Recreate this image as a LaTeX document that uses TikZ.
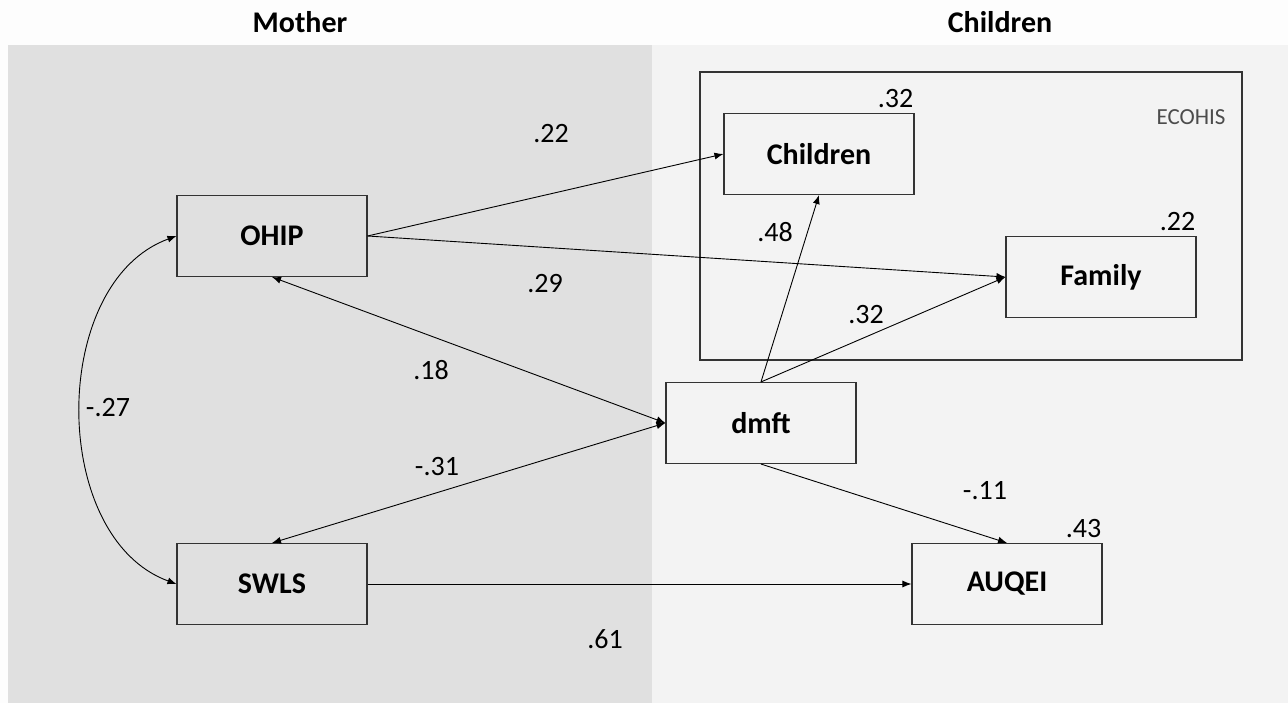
\documentclass[tikz,border=0pt]{standalone}
\usepackage{fontspec}
\setmainfont{Carlito}
\usetikzlibrary{arrows.meta}
\definecolor{motherbg}{RGB}{224,224,224}
\definecolor{childbg}{RGB}{243,243,243}
\definecolor{topbg}{RGB}{253,253,253}
\tikzset{
  var/.style={draw=black!80,line width=1.1pt,minimum width=190pt,minimum height=81pt,
    inner sep=0pt,font=\fontsize{30}{36}\selectfont\bfseries},
  coef/.style={font=\fontsize{28}{34}\selectfont,inner sep=1pt},
  path/.style={line width=0.9pt,-{Latex[length=9pt,width=7pt]}},
  cov/.style={line width=0.9pt,{Latex[length=9pt,width=7pt]}-{Latex[length=9pt,width=7pt]}},
  head/.style={font=\fontsize{30}{36}\selectfont\bfseries}
}
\begin{document}
\begin{tikzpicture}[x=1pt,y=-1pt]
\useasboundingbox (0,0) rectangle (1288,703);
% panels
\fill[topbg] (0,0) rectangle (1288,703);
\fill[motherbg] (8,45) rectangle (652,703);
\fill[childbg] (652,45) rectangle (1288,703);
\node[head] (hmother) at (300,22) {Mother};
\node[head] (hchildren) at (1000,22) {Children};
% ECOHIS block
\node[draw=black!80,line width=1.1pt,minimum width=542pt,minimum height=288pt] (ecohis) at (971,216) {};
\node[font=\fontsize{23}{28}\selectfont,text=black!70] (lecohis) at (1191,117) {ECOHIS};
% variables
\node[var] (ohip) at (272,236) {OHIP};
\node[var] (swls) at (272,584) {SWLS};
\node[var] (dmft) at (761,423) {dmft};
\node[var] (child) at (819,154) {Children};
\node[var] (fam) at (1101,277) {Family};
\node[var] (auqei) at (1007,584) {AUQEI};
% explained variance
\node[coef,anchor=south east] (rchild) at ([yshift=4pt]child.north east) {.32};
\node[coef,anchor=south east] (rfam) at ([yshift=4pt]fam.north east) {.22};
\node[coef,anchor=south east] (rauqei) at ([yshift=4pt]auqei.north east) {.43};
% paths
\draw[path] (ohip.east) -- (child.west);
\draw[path] (ohip.east) -- (fam.west);
\draw[path] (dmft.north) -- (child.south);
\draw[path] (dmft.north) -- (fam.west);
\draw[path] (dmft.south) -- (auqei.north);
\draw[path] (swls.east) -- (auqei.west);
\draw[cov] (ohip.south) -- (dmft.west);
\draw[cov] (swls.north) -- (dmft.west);
\draw[cov] (ohip.west) to[out=200,in=160,looseness=1] (swls.west);
% coefficients
\node[coef] (c22) at (551,134) {.22};
\node[coef] (c29) at (545,284) {.29};
\node[coef] (c18) at (431,370) {.18};
\node[coef] (c31) at (437,467) {-.31};
\node[coef] (c48) at (775,232) {.48};
\node[coef] (c32) at (866,315) {.32};
\node[coef] (c11) at (985,491) {-.11};
\node[coef] (c61) at (605,639) {.61};
\node[coef] (c27) at (108,408) {-.27};
\end{tikzpicture}
\end{document}
